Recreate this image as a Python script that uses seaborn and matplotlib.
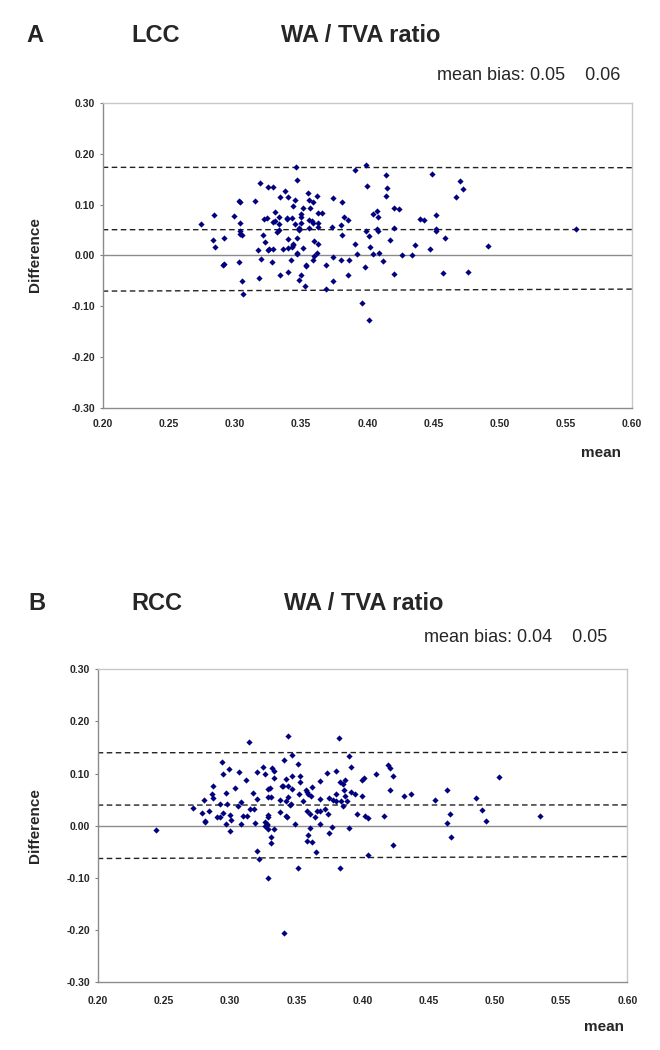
import matplotlib
matplotlib.use("Agg")
import matplotlib.pyplot as plt
from matplotlib.ticker import FormatStrFormatter
import seaborn as sns
import pandas as pd

# LCC panel: (mean, difference)
lcc_mean = [
    0.274, 0.284, 0.283, 0.285, 0.292, 0.291, 0.292, 0.299, 0.303, 0.304,
    0.305, 0.303, 0.304, 0.304, 0.304, 0.305, 0.306, 0.315, 0.317, 0.318,
    0.319, 0.320, 0.321, 0.322, 0.323, 0.324, 0.325, 0.325, 0.326, 0.328,
    0.329, 0.329, 0.329, 0.330, 0.330, 0.332, 0.333, 0.333, 0.333, 0.334,
    0.334, 0.336, 0.338, 0.339, 0.339, 0.340, 0.340, 0.340, 0.340, 0.342,
    0.343, 0.343, 0.344, 0.344, 0.344, 0.345, 0.345, 0.346, 0.347, 0.347,
    0.347, 0.347, 0.348, 0.348, 0.348, 0.350, 0.350, 0.350, 0.350, 0.351,
    0.351, 0.353, 0.354, 0.354, 0.355, 0.356, 0.356, 0.356, 0.357, 0.358,
    0.359, 0.359, 0.359, 0.360, 0.360, 0.362, 0.362, 0.363, 0.363, 0.363,
    0.363, 0.366, 0.369, 0.369,
    0.374, 0.381, 0.373, 0.380, 0.381, 0.382, 0.385, 0.374, 0.374, 0.380,
    0.386, 0.385, 0.391, 0.392, 0.391, 0.399, 0.400, 0.399, 0.401, 0.402,
    0.398, 0.396, 0.401, 0.404, 0.404, 0.407, 0.408, 0.407, 0.408, 0.409,
    0.412, 0.414, 0.415, 0.414, 0.417, 0.420, 0.424, 0.420, 0.420, 0.426,
    0.434, 0.436, 0.440, 0.443, 0.447, 0.449, 0.452, 0.452, 0.452, 0.459,
    0.457, 0.467, 0.470, 0.472, 0.476, 0.491, 0.558,
]
lcc_diff = [
    0.061, 0.080, 0.031, 0.016, 0.034, -0.019, -0.017, 0.078, 0.107, 0.106,
    0.040, -0.013, 0.064, 0.048, 0.042, -0.050, -0.076, 0.107, 0.010, -0.044,
    0.143, -0.007, 0.040, 0.072, 0.027, 0.074, 0.135, 0.010, 0.012, -0.013,
    0.134, 0.013, 0.065, 0.085, 0.068, 0.047, 0.061, 0.051, 0.076, 0.115,
    -0.038, 0.013, 0.128, 0.073, 0.071, 0.033, 0.115, 0.014, -0.032, -0.009,
    0.017, 0.073, 0.097, 0.020, 0.023, 0.109, 0.061, 0.174, 0.149, 0.035,
    0.004, 0.003, -0.049, 0.055, 0.050, 0.063, 0.082, 0.075, -0.039, 0.015,
    0.094, -0.060, -0.020, -0.019, 0.123, 0.070, 0.055, 0.109, 0.093, 0.068,
    0.064, -0.009, 0.105, -0.002, 0.028, 0.005, 0.117, 0.023, 0.084, 0.057,
    0.063, 0.083, -0.019, -0.066,
    0.114, 0.106, 0.057, 0.060, 0.041, 0.076, 0.069, -0.004, -0.051, -0.009,
    -0.009, -0.038, 0.022, 0.003, 0.168, 0.179, 0.137, 0.048, 0.038, 0.016,
    -0.022, -0.093, -0.128, 0.002, 0.082, 0.088, 0.075, 0.052, 0.049, 0.005,
    -0.011, 0.159, 0.132, 0.118, 0.030, 0.094, 0.092, 0.055, -0.036, 0.001,
    0.001, 0.020, 0.071, 0.069, 0.013, 0.160, 0.080, 0.053, 0.049, 0.034,
    -0.035, 0.115, 0.146, 0.130, -0.032, 0.019, 0.052,
]

# RCC panel
rcc_mean = [
    0.244, 0.272, 0.279, 0.280, 0.281, 0.281, 0.284, 0.286, 0.287, 0.287,
    0.290, 0.292, 0.292, 0.294, 0.295, 0.295, 0.297, 0.298, 0.299, 0.297,
    0.300, 0.300, 0.301, 0.304, 0.306, 0.307, 0.308, 0.308, 0.310, 0.312,
    0.314, 0.313, 0.315, 0.317, 0.318, 0.319, 0.320, 0.320, 0.325, 0.326,
    0.326, 0.327, 0.328, 0.329, 0.329, 0.329, 0.330, 0.329, 0.331, 0.332,
    0.333, 0.333, 0.333, 0.338, 0.338, 0.339, 0.340, 0.341, 0.342, 0.342,
    0.342, 0.343, 0.344, 0.344, 0.344, 0.345, 0.346, 0.347, 0.347, 0.347,
    0.349, 0.351, 0.352, 0.353, 0.353, 0.355, 0.357, 0.358, 0.359, 0.358,
    0.360, 0.360, 0.358, 0.359, 0.362, 0.361, 0.362, 0.364, 0.366, 0.368,
    0.368, 0.368, 0.368, 0.373, 0.372, 0.375, 0.374, 0.375,
    0.320, 0.322, 0.329, 0.326, 0.328, 0.329, 0.331, 0.331, 0.341, 0.351,
    0.365, 0.377, 0.383, 0.390,
    0.378, 0.380, 0.380, 0.380, 0.382, 0.383, 0.385, 0.384, 0.385, 0.386,
    0.387, 0.387, 0.388, 0.390, 0.391, 0.391, 0.394, 0.396, 0.400, 0.400,
    0.401, 0.402, 0.404, 0.410, 0.416, 0.419, 0.421, 0.423, 0.421, 0.423,
    0.431, 0.437, 0.455, 0.464, 0.466, 0.464, 0.467, 0.486, 0.490, 0.493,
    0.503, 0.534, 0.404,
]
rcc_diff = [
    -0.009, 0.034, 0.024, 0.050, 0.009, 0.008, 0.028, 0.061, 0.053, 0.076,
    0.016, 0.017, 0.042, 0.122, 0.100, 0.024, 0.063, 0.042, 0.109, 0.003,
    -0.010, 0.020, 0.012, 0.072, 0.037, 0.103, 0.045, 0.004, 0.019, 0.088,
    0.161, 0.018, 0.033, 0.062, 0.033, 0.006, 0.103, 0.052, 0.113, 0.099,
    0.008, -0.001, 0.004, 0.020, 0.017, 0.071, 0.073, 0.055, 0.055, 0.110,
    0.105, 0.092, -0.006, 0.027, 0.050, 0.076, 0.077, 0.126, 0.048, 0.089,
    0.019, 0.017, 0.173, 0.076, 0.056, 0.039, 0.042, 0.136, 0.095, 0.070,
    0.003, 0.118, 0.061, 0.095, 0.084, 0.047, 0.068, 0.065, 0.061, 0.029,
    0.022, -0.005, -0.029, -0.018, -0.031, 0.058, 0.074, 0.017, 0.028, 0.028,
    0.085, 0.052, 0.004, 0.102, 0.033, -0.014, 0.022, 0.053,
    -0.049, -0.063, -0.100, -0.001, 0.001, -0.007, -0.022, -0.033, -0.206, -0.080,
    -0.050, -0.003, -0.080, -0.005,
    0.050, 0.061, 0.048, 0.105, 0.168, 0.084, 0.081, 0.048, 0.037, 0.069,
    0.058, 0.088, 0.048, 0.134, 0.112, 0.065, 0.061, 0.022, 0.058, 0.088,
    0.091, 0.019, 0.015, 0.100, 0.019, 0.116, 0.110, 0.095, 0.069, -0.036,
    0.058, 0.061, 0.049, 0.069, 0.022, 0.005, -0.022, 0.054, 0.031, 0.010,
    0.093, 0.019, -0.056,
]

# reference lines (left end, right end): upper limit, mean bias, lower limit
lcc_upper = [0.1737, 0.1730]
lcc_bias = [0.0507, 0.0510]
lcc_lower = [-0.0704, -0.0665]
rcc_upper = [0.1400, 0.1408]
rcc_bias = [0.0397, 0.0400]
rcc_lower = [-0.0627, -0.0590]

x_ends = [0.20, 0.60]
x_ticks = [0.20, 0.25, 0.30, 0.35, 0.40, 0.45, 0.50, 0.55, 0.60]
y_ticks = [-0.30, -0.20, -0.10, 0.00, 0.10, 0.20, 0.30]

sns.set_theme(style="white")
plt.rcParams["font.family"] = ["Liberation Sans", "DejaVu Sans"]

W, H = 660, 1050
fig = plt.figure(figsize=(W / 100, H / 100), dpi=100)


def px_box(left, top, right, bottom):
    return [left / W, 1 - bottom / H, (right - left) / W, (bottom - top) / H]


def draw_panel(ax, means, diffs, upper, bias, lower, xpad):
    data = pd.DataFrame({"mean": means, "diff": diffs})
    ax.axhline(0, color="#8c8c8c", lw=1.0, zorder=1)
    for level in (upper, bias, lower):
        ax.plot(x_ends, level, color="#222222", lw=1.0, ls=(0, (4, 2.5)), zorder=1)
    sns.scatterplot(data=data, x="mean", y="diff", ax=ax, marker="D", s=10,
                    color="#000080", linewidth=0, zorder=3)
    ax.set_xlim(0.20, 0.60)
    ax.set_ylim(-0.30, 0.30)
    ax.set_xticks(x_ticks)
    ax.set_yticks(y_ticks)
    ax.xaxis.set_major_formatter(FormatStrFormatter("%.2f"))
    ax.yaxis.set_major_formatter(FormatStrFormatter("%.2f"))
    ax.tick_params(axis="x", length=0, pad=xpad, labelsize=7.5)
    ax.tick_params(axis="y", left=True, length=2.5, width=0.8, color="#808080",
                   pad=3, labelsize=7.5)
    for lab in ax.get_xticklabels() + ax.get_yticklabels():
        lab.set_fontweight("bold")
    ax.set_xlabel("")
    ax.set_ylabel("")
    for side in ("left", "bottom"):
        ax.spines[side].set_color("#8c8c8c")
        ax.spines[side].set_linewidth(1.0)
    for side in ("top", "right"):
        ax.spines[side].set_color("#c8c8c8")
        ax.spines[side].set_linewidth(1.0)


ax_a = fig.add_axes(px_box(102.7, 103.3, 632, 407.5))
draw_panel(ax_a, lcc_mean, lcc_diff, lcc_upper, lcc_bias, lcc_lower, 8)

ax_b = fig.add_axes(px_box(97.7, 669.3, 627.3, 982.3))
draw_panel(ax_b, rcc_mean, rcc_diff, rcc_upper, rcc_bias, rcc_lower, 10)


def fig_text(x, y, s, **kw):
    fig.text(x / W, 1 - y / H, s, va="center", **kw)


# panel A texts
fig_text(26, 35, "A", fontsize=17, fontweight="bold")
fig_text(131, 35, "LCC", fontsize=17, fontweight="bold")
fig_text(281, 35, "WA / TVA ratio", fontsize=17, fontweight="bold")
fig_text(620, 76, "mean bias: 0.05    0.06", fontsize=13, ha="right")
fig_text(35, 255, "Difference", fontsize=11, fontweight="bold", rotation=90, ha="center")
fig_text(601, 453, "mean", fontsize=11, fontweight="bold", ha="center")

# panel B texts
fig_text(28, 604, "B", fontsize=17, fontweight="bold")
fig_text(131, 604, "RCC", fontsize=17, fontweight="bold")
fig_text(284, 604, "WA / TVA ratio", fontsize=17, fontweight="bold")
fig_text(607, 638, "mean bias: 0.04    0.05", fontsize=13, ha="right")
fig_text(35, 826, "Difference", fontsize=11, fontweight="bold", rotation=90, ha="center")
fig_text(604, 1027, "mean", fontsize=11, fontweight="bold", ha="center")

fig.savefig("out.png", dpi=100, facecolor="white")
